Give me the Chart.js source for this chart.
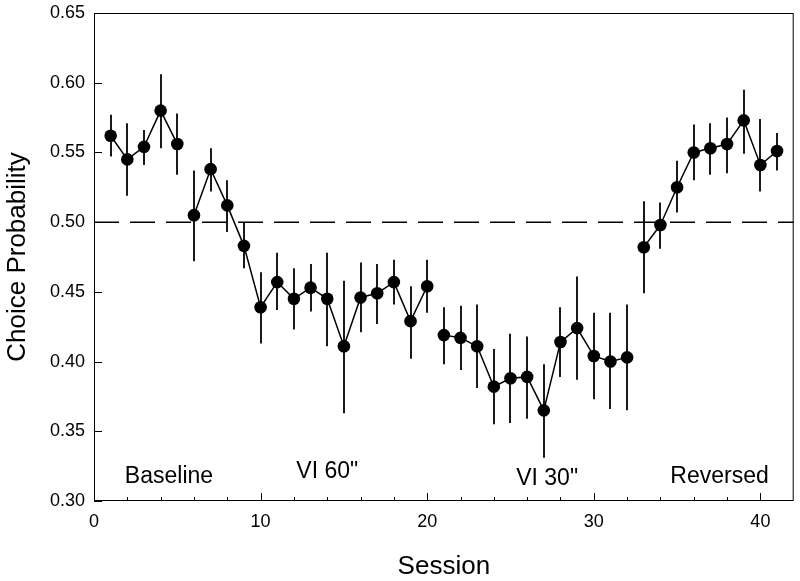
<!DOCTYPE html>
<html>
<head>
<meta charset="utf-8">
<script src="https://cdn.jsdelivr.net/npm/chart.js@4.4.1/dist/chart.umd.min.js"></script>
<style>
    html, body { margin: 0; padding: 0; background: #fff; }
    #wrap { width: 800px; height: 581px; }
</style>
</head>
<body>
<div id="wrap"><canvas id="choiceChart"></canvas></div>
<script>
// session numbers and mean choice probability (+/- error bar ends)
const sessions = [1, 2, 3, 4, 5, 6, 7, 8, 9, 10, 11, 12, 13, 14, 15, 16, 17, 18, 19, 20,
    21, 22, 23, 24, 25, 26, 27, 28, 29, 30, 31, 32, 33, 34, 35, 36, 37, 38, 39, 40, 41];

const means = [0.562, 0.545, 0.554, 0.580, 0.556, 0.505, 0.538, 0.512, 0.483, 0.439,
    0.457, 0.445, 0.453, 0.445, 0.411, 0.446, 0.449, 0.457, 0.429, 0.454,
    0.419, 0.417, 0.411, 0.382, 0.388, 0.389, 0.365, 0.414, 0.424, 0.404,
    0.400, 0.403, 0.482, 0.498, 0.525, 0.550, 0.553, 0.556, 0.573, 0.541, 0.551];

const lower = [0.547, 0.519, 0.541, 0.553, 0.534, 0.472, 0.522, 0.493, 0.467, 0.413,
    0.437, 0.423, 0.436, 0.411, 0.363, 0.421, 0.427, 0.441, 0.402, 0.435,
    0.398, 0.394, 0.381, 0.355, 0.356, 0.359, 0.331, 0.389, 0.387, 0.373,
    0.366, 0.365, 0.449, 0.481, 0.507, 0.530, 0.534, 0.535, 0.549, 0.522, 0.537];

const upper = [0.577, 0.571, 0.566, 0.606, 0.578, 0.537, 0.553, 0.530, 0.500, 0.464,
    0.478, 0.467, 0.470, 0.478, 0.458, 0.471, 0.470, 0.473, 0.454, 0.473,
    0.439, 0.440, 0.441, 0.409, 0.420, 0.418, 0.398, 0.439, 0.461, 0.435,
    0.435, 0.441, 0.515, 0.514, 0.544, 0.570, 0.571, 0.575, 0.595, 0.574, 0.564];

// last session of each phase
const phaseEnds = [5, 20, 32, 41];
const phaseNames = ["Baseline", "VI 60\"", "VI 30\"", "Reversed"];

const indifference = 0.5;
const xTicks = [0, 10, 20, 30, 40];
const yTicks = [0.30, 0.35, 0.40, 0.45, 0.50, 0.55, 0.60, 0.65];

const FONT = "'Liberation Sans', Arial, Helvetica, sans-serif";

// one line per phase, so the phases are not joined
const phaseSets = phaseEnds.map((end, i) => {
    const start = i === 0 ? 0 : phaseEnds[i - 1];
    return {
        label: phaseNames[i],
        data: sessions.slice(start, end).map((s, j) => ({ x: s, y: means[start + j] })),
        borderColor: "#000",
        borderWidth: 1.5,
        pointRadius: 6.3,
        pointBackgroundColor: "#000",
        pointBorderWidth: 0,
        tension: 0
    };
});

const extras = {
    id: "extras",

    beforeDatasetsDraw(chart) {
        const { ctx, scales: { x, y } } = chart;
        ctx.save();
        ctx.strokeStyle = "#1a1a1a";
        ctx.lineWidth = 2;
        sessions.forEach((s, i) => {
            const px = Math.round(x.getPixelForValue(s));
            ctx.beginPath();
            ctx.moveTo(px, y.getPixelForValue(lower[i]));
            ctx.lineTo(px, y.getPixelForValue(upper[i]));
            ctx.stroke();
        });
        ctx.restore();
    },

    afterDraw(chart, args, opts) {
        const { ctx, chartArea: a, scales: { x, y } } = chart;
        ctx.save();
        ctx.strokeStyle = "#000";
        ctx.lineWidth = 1;

        // frame
        ctx.strokeRect(a.left + 0.5, a.top + 0.5, a.right - a.left - 1, a.bottom - a.top - 1);

        // inward ticks
        ctx.beginPath();
        for (let v = 2; v < x.max; v += 2) {
            const px = Math.round(x.getPixelForValue(v)) + 0.5;
            const len = v % 10 === 0 ? 8 : 4;
            ctx.moveTo(px, a.bottom);
            ctx.lineTo(px, a.bottom - len);
        }
        yTicks.forEach(v => {
            const py = Math.round(y.getPixelForValue(v)) + 0.5;
            ctx.moveTo(a.left, py);
            ctx.lineTo(a.left + 8, py);
        });
        ctx.stroke();

        // phase names
        ctx.fillStyle = "#000";
        ctx.font = "23px " + FONT;
        ctx.textAlign = "center";
        ctx.textBaseline = "middle";
        phaseNames.forEach((name, i) => {
            ctx.fillText(name, x.getPixelForValue(opts.labelX[i]), y.getPixelForValue(opts.labelY[i]));
        });
        ctx.restore();
    }
};

new Chart(document.getElementById("choiceChart"), {
    type: "line",

    data: {
        datasets: [
            ...phaseSets,
            {
                label: "Indifference",
                data: [{ x: 0, y: indifference }, { x: 42, y: indifference }],
                borderColor: "#000",
                borderWidth: 1.5,
                borderDash: [25, 11],
                pointRadius: 0
            }
        ]
    },

    plugins: [extras],

    options: {
        responsive: true,
        maintainAspectRatio: false,
        animation: false,

        layout: {
            padding: { top: 13, right: 6, left: 0, bottom: 0 }
        },

        plugins: {
            legend: { display: false },
            tooltip: { enabled: false },
            extras: {
                labelX: [4.5, 14.0, 27.2, 37.55],
                labelY: [0.3174, 0.3208, 0.3158, 0.3174]
            }
        },

        scales: {
            x: {
                type: "linear",
                min: 0,
                max: 42,
                afterFit: scale => { scale.height = 80; },
                afterBuildTicks: scale => { scale.ticks = xTicks.map(v => ({ value: v })); },
                grid: { display: false, drawTicks: false },
                border: { display: false },
                ticks: {
                    padding: 10,
                    color: "#000",
                    font: { family: FONT, size: 18 }
                },
                title: {
                    display: true,
                    text: "Session",
                    color: "#000",
                    font: { family: FONT, size: 26, lineHeight: 1.1 },
                    padding: { top: 0, bottom: 0 }
                }
            },

            y: {
                min: 0.30,
                max: 0.65,
                afterFit: scale => {
                    scale.width = 94;
                    scale.paddingTop = 0;
                    scale.paddingBottom = 0;
                },
                afterBuildTicks: scale => { scale.ticks = yTicks.map(v => ({ value: v })); },
                grid: { display: false, drawTicks: false },
                border: { display: false },
                ticks: {
                    padding: 9,
                    color: "#000",
                    font: { family: FONT, size: 18 },
                    callback: value => value.toFixed(2)
                },
                title: {
                    display: true,
                    text: "Choice Probability",
                    color: "#000",
                    font: { family: FONT, size: 26, lineHeight: 1.1 },
                    padding: { top: 4, bottom: 0 }
                }
            }
        }
    }
});
</script>
</body>
</html>
